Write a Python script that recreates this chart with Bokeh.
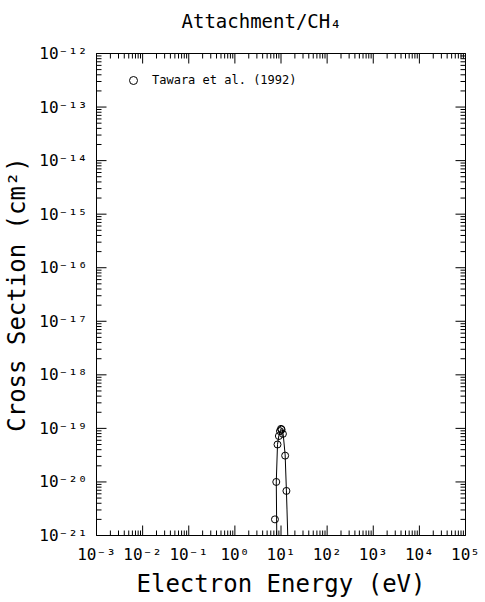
import math
from bokeh.plotting import figure
from bokeh.models import (LogAxis, FixedTicker, CustomJSTickFormatter, Legend,
                          LegendItem, Range1d)
from bokeh.embed import file_html
from bokeh.resources import INLINE

# ---- data ----
title_text = "Attachment/CH₄"
x_label = "Electron Energy (eV)"
y_label = "Cross Section (cm²)"
legend_label = "Tawara et al. (1992)"

x_tick_exponents = [-3, -2, -1, 0, 1, 2, 3, 4, 5]
y_tick_exponents = [-21, -20, -19, -18, -17, -16, -15, -14, -13, -12]

# measured points (Tawara et al. 1992)
point_energy = [7.4, 7.9, 8.4, 9.0, 9.5, 10.0, 10.3, 11.0, 12.3, 13.1]
point_xsec = [2.0e-21, 1.0e-20, 5.0e-20, 7.2e-20, 8.9e-20, 9.8e-20,
              9.5e-20, 7.9e-20, 3.1e-20, 6.8e-21]

# recommended curve
curve_energy = [8.1, 7.9, 8.4, 9.0, 9.6, 10.1, 10.6, 11.2, 12.3, 13.1, 13.5, 14.0]
curve_xsec = [1.0e-21, 1.0e-20, 5.0e-20, 7.4e-20, 9.0e-20, 9.9e-20,
              9.6e-20, 7.5e-20, 3.2e-20, 6.8e-21, 3.0e-21, 1.0e-21]

FONT = "DejaVu Sans Mono"
X_MIN, X_MAX = 1e-3, 1e5
Y_MIN, Y_MAX = 1e-21, 1e-12
FRAME_W, FRAME_H = 369, 482

x_major = [10.0 ** e for e in x_tick_exponents]
y_major = [10.0 ** e for e in y_tick_exponents]
x_minor = [m * 10.0 ** e for e in x_tick_exponents[:-1] for m in range(2, 10)]
y_minor = [m * 10.0 ** e for e in y_tick_exponents[:-1] for m in range(2, 10)]

p = figure(x_axis_type="log", y_axis_type="log",
           x_range=Range1d(X_MIN, X_MAX), y_range=Range1d(Y_MIN, Y_MAX),
           frame_width=FRAME_W, frame_height=FRAME_H,
           min_border_left=88, min_border_right=21,
           min_border_top=53, min_border_bottom=59,
           output_backend="svg", toolbar_location=None)

p.background_fill_color = "white"
p.border_fill_color = "white"
p.outline_line_color = "black"
p.outline_line_width = 1
p.xgrid.visible = False
p.ygrid.visible = False

# title: a blank second line lifts the text away from the frame
p.title.text = title_text + "\n "
p.title.text_font = FONT
p.title.text_font_size = "19px"
p.title.text_font_style = "normal"
p.title.text_line_height = 1.0
p.title.align = "left"
p.title.offset = 85
p.title.standoff = 0
p.title.text_color = "black"

sup_code = """
const sup = {"-":"\u207b","0":"\u2070","1":"\u00b9","2":"\u00b2","3":"\u00b3",
             "4":"\u2074","5":"\u2075","6":"\u2076","7":"\u2077","8":"\u2078","9":"\u2079"};
const e = Math.round(Math.log10(tick));
return "10" + String(e).split("").map(c => sup[c]).join("");
"""
blank_code = "return '';"


def style_axis(ax, major, minor, labels=True):
    ax.ticker = FixedTicker(ticks=major, minor_ticks=minor)
    ax.major_tick_in = 0
    ax.major_tick_out = 0
    ax.minor_tick_in = 0
    ax.minor_tick_out = 0
    ax.axis_line_color = "black"
    if labels:
        ax.formatter = CustomJSTickFormatter(code=sup_code)
        ax.major_label_text_font = FONT
        ax.major_label_text_font_size = "16px"
        ax.major_label_text_color = "black"
        ax.major_label_standoff = 9
        ax.axis_label_text_font = FONT
        ax.axis_label_text_font_size = "24px"
        ax.axis_label_text_font_style = "normal"
        ax.axis_label_text_color = "black"
    else:
        ax.formatter = CustomJSTickFormatter(code=blank_code)
        ax.major_label_text_font_size = "1px"
        ax.major_label_standoff = 0


style_axis(p.xaxis[0], x_major, x_minor)
style_axis(p.yaxis[0], y_major, y_minor)
p.xaxis[0].axis_label = x_label
p.yaxis[0].axis_label = y_label
p.xaxis[0].axis_label_standoff = 3
p.yaxis[0].axis_label_standoff = 5

top_ax = LogAxis()
right_ax = LogAxis()
style_axis(top_ax, x_major, x_minor, labels=False)
style_axis(right_ax, y_major, y_minor, labels=False)
p.add_layout(top_ax, "above")
p.add_layout(right_ax, "right")

# inward tick marks drawn as short segments from the frame edges
px_per_dec_x = FRAME_W / (math.log10(X_MAX) - math.log10(X_MIN))
px_per_dec_y = FRAME_H / (math.log10(Y_MAX) - math.log10(Y_MIN))
MAJOR_LEN, MINOR_LEN = 10, 5
for ticks, length in ((x_major, MAJOR_LEN), (x_minor, MINOR_LEN)):
    f = 10 ** (length / px_per_dec_y)
    n = len(ticks)
    p.segment(x0=ticks, y0=[Y_MIN] * n, x1=ticks, y1=[Y_MIN * f] * n,
              line_color="black", line_width=1)
    p.segment(x0=ticks, y0=[Y_MAX] * n, x1=ticks, y1=[Y_MAX / f] * n,
              line_color="black", line_width=1)
for ticks, length in ((y_major, MAJOR_LEN), (y_minor, MINOR_LEN)):
    f = 10 ** (length / px_per_dec_x)
    n = len(ticks)
    p.segment(x0=[X_MIN] * n, y0=ticks, x1=[X_MIN * f] * n, y1=ticks,
              line_color="black", line_width=1)
    p.segment(x0=[X_MAX] * n, y0=ticks, x1=[X_MAX / f] * n, y1=ticks,
              line_color="black", line_width=1)

curve = p.line(curve_energy, curve_xsec, line_color="black", line_width=1)
pts = p.scatter(point_energy, point_xsec, marker="circle", size=7,
                fill_color=None, line_color="black", line_width=1)

legend = Legend(items=[LegendItem(label=legend_label, renderers=[pts])],
                location=(27, 445), padding=0, margin=0,
                label_standoff=9, glyph_width=20, glyph_height=20,
                label_text_font=FONT, label_text_font_size="12px",
                label_text_color="black",
                border_line_color=None, background_fill_alpha=0)
p.add_layout(legend, "center")

open("out.html", "w").write(file_html(p, INLINE))
